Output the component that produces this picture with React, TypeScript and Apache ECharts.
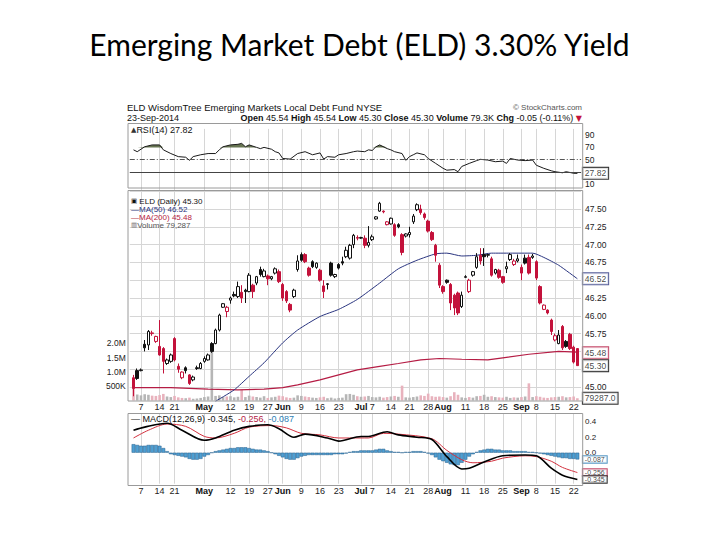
import React, { useEffect, useRef } from 'react';
import * as echarts from 'echarts';

// Daily candles, 3-Apr-2014 .. 23-Sep-2014: [open, high, low, close]
const ohlc: number[][] = [
  [45.13, 45.17, 44.87, 44.98], [45.23, 45.26, 45.10, 45.12], [45.23, 45.26, 45.22, 45.24], [45.60, 45.66, 45.50, 45.55],
  [45.59, 45.80, 45.52, 45.78], [45.75, 45.79, 45.72, 45.76], [45.64, 45.72, 45.62, 45.71], [45.57, 45.94, 45.44, 45.45],
  [45.54, 45.56, 45.19, 45.36], [45.33, 45.40, 45.31, 45.38], [45.36, 45.47, 45.34, 45.45], [45.68, 45.70, 45.36, 45.38],
  [45.29, 45.33, 45.20, 45.25], [45.13, 45.22, 45.11, 45.21], [45.27, 45.29, 45.19, 45.23], [45.17, 45.18, 45.03, 45.05],
  [45.10, 45.16, 45.08, 45.14], [45.27, 45.30, 45.24, 45.26], [45.26, 45.35, 45.25, 45.33], [45.36, 45.43, 45.34, 45.40],
  [45.38, 45.47, 45.37, 45.45], [45.61, 45.63, 45.48, 45.50], [45.61, 45.82, 45.60, 45.80], [45.80, 46.03, 45.78, 46.01],
  [46.12, 46.18, 46.11, 46.17], [46.06, 46.14, 45.98, 46.12], [46.22, 46.27, 46.17, 46.25], [46.30, 46.34, 46.26, 46.28],
  [46.27, 46.48, 46.25, 46.41], [46.33, 46.43, 46.18, 46.25], [46.36, 46.38, 46.18, 46.34], [46.34, 46.60, 46.33, 46.57],
  [46.43, 46.45, 46.25, 46.34], [46.46, 46.56, 46.43, 46.55], [46.65, 46.69, 46.55, 46.58], [46.55, 46.66, 46.54, 46.63],
  [46.56, 46.58, 46.43, 46.52], [46.52, 46.56, 46.50, 46.55], [46.60, 46.68, 46.58, 46.66], [46.62, 46.65, 46.46, 46.48],
  [46.44, 46.46, 46.21, 46.25], [46.34, 46.36, 46.18, 46.21], [46.16, 46.18, 46.05, 46.08], [46.27, 46.38, 46.25, 46.36],
  [46.65, 46.85, 46.62, 46.77], [46.86, 46.89, 46.76, 46.78], [46.86, 46.88, 46.74, 46.76], [46.67, 46.69, 46.55, 46.57],
  [46.76, 46.78, 46.67, 46.69], [46.68, 46.75, 46.66, 46.74], [46.64, 46.66, 46.48, 46.50], [46.42, 46.50, 46.25, 46.34],
  [46.44, 46.46, 46.37, 46.45], [46.74, 46.76, 46.55, 46.57], [46.55, 46.59, 46.53, 46.58], [46.72, 46.74, 46.65, 46.67],
  [46.76, 46.83, 46.71, 46.74], [46.83, 46.97, 46.81, 46.92], [46.81, 47.01, 46.79, 46.99], [47.00, 47.15, 46.95, 47.13],
  [47.10, 47.13, 47.06, 47.09], [47.09, 47.11, 47.08, 47.10], [47.09, 47.13, 46.95, 46.99], [46.99, 47.26, 46.96, 47.03],
  [47.07, 47.14, 47.05, 47.11], [47.36, 47.40, 47.35, 47.39], [47.47, 47.60, 47.46, 47.58], [47.47, 47.48, 47.44, 47.46],
  [47.28, 47.33, 47.27, 47.32], [47.29, 47.38, 47.28, 47.37], [47.28, 47.30, 47.11, 47.13], [47.28, 47.30, 47.23, 47.25],
  [47.14, 47.16, 46.85, 46.89], [47.12, 47.16, 47.10, 47.15], [47.14, 47.25, 47.10, 47.17], [47.32, 47.43, 47.29, 47.40],
  [47.49, 47.58, 47.47, 47.56], [47.50, 47.56, 47.42, 47.45], [47.43, 47.45, 47.35, 47.38], [47.33, 47.35, 47.17, 47.19],
  [47.17, 47.19, 47.05, 47.07], [46.99, 47.01, 46.76, 46.85], [46.71, 46.74, 46.39, 46.43], [46.41, 46.43, 46.31, 46.34],
  [46.50, 46.51, 46.45, 46.47], [46.44, 46.46, 46.08, 46.18], [46.29, 46.31, 46.01, 46.11], [46.32, 46.34, 46.01, 46.04],
  [46.13, 46.34, 46.11, 46.29], [46.54, 46.57, 46.53, 46.55], [46.34, 46.52, 46.32, 46.50], [46.57, 46.63, 46.55, 46.62],
  [46.68, 46.88, 46.66, 46.83], [46.85, 46.95, 46.72, 46.77], [46.86, 46.95, 46.70, 46.83], [46.85, 46.87, 46.82, 46.86],
  [46.80, 46.83, 46.55, 46.57], [46.60, 46.66, 46.58, 46.65], [46.64, 46.66, 46.52, 46.54], [46.55, 46.56, 46.45, 46.47],
  [46.66, 46.76, 46.60, 46.69], [46.79, 46.88, 46.77, 46.86], [46.72, 46.80, 46.70, 46.77], [46.77, 46.86, 46.75, 46.80],
  [46.68, 46.72, 46.50, 46.60], [46.81, 46.86, 46.72, 46.74], [46.82, 46.86, 46.58, 46.60], [46.82, 46.87, 46.80, 46.84],
  [46.76, 46.78, 46.50, 46.53], [46.41, 46.43, 46.16, 46.18], [46.09, 46.16, 46.08, 46.15], [46.08, 46.09, 46.02, 46.04],
  [45.94, 45.96, 45.73, 45.78], [45.66, 45.75, 45.64, 45.72], [45.61, 45.80, 45.60, 45.73], [45.85, 45.87, 45.52, 45.55],
  [45.64, 45.66, 45.55, 45.57], [45.74, 45.76, 45.52, 45.54], [45.56, 45.58, 45.33, 45.35], [45.54, 45.54, 45.30, 45.30],
];

// Daily volume, thousands of shares
const volumeK: number[] = [
  450, 210, 180, 220, 200, 170, 160, 190, 230, 140, 120, 160, 110, 90, 80, 100, 60, 70, 90, 120,
  140, 1700, 160, 180, 120, 140, 150, 110, 130, 380, 120, 170, 140, 120, 100, 150, 90, 110, 130, 170,
  150, 110, 90, 100, 180, 160, 140, 120, 100, 90, 110, 130, 80, 100, 70, 90, 100, 220, 230, 200,
  150, 130, 140, 160, 120, 110, 130, 100, 120, 140, 160, 130, 520, 110, 100, 120, 140, 180, 160, 240,
  150, 130, 140, 120, 100, 150, 290, 200, 110, 90, 120, 100, 150, 160, 200, 130, 150, 120, 110, 100,
  130, 90, 110, 100, 120, 140, 600, 120, 150, 130, 100, 90, 110, 120, 130, 150, 110, 120, 140, 79.287,
];

// [day index, value]
const ma50Points: number[][] = [
  [22, 44.80], [27, 44.96], [31, 45.15], [35, 45.34], [40, 45.62], [44, 45.80], [50, 45.99], [55, 46.09],
  [60, 46.23], [66, 46.46], [71, 46.66], [76, 46.78], [81, 46.87], [84, 46.88], [88, 46.84], [92, 46.85],
  [96, 46.88], [101, 46.88], [107, 46.88], [110, 46.82], [114, 46.71], [119, 46.52],
];
const ma200Points: number[][] = [
  [0, 44.99], [10, 44.99], [20, 44.97], [28, 44.96], [35, 44.97], [40, 44.99], [44, 45.03], [50, 45.10],
  [55, 45.17], [60, 45.24], [66, 45.29], [71, 45.33], [77, 45.38], [82, 45.40], [88, 45.39], [95, 45.38],
  [99, 45.41], [106, 45.46], [114, 45.50], [119, 45.49],
];
const rsiPoints: number[][] = [
  [0, 66], [1, 63], [3, 71], [5, 74], [7, 74], [8, 66], [10, 60], [12, 55], [14, 54], [15, 49], [16, 55],
  [18, 58], [20, 60], [22, 60], [23, 66], [24, 71], [26, 74], [28, 75], [29, 76.5], [30, 71], [31, 74],
  [33, 70], [34, 68], [35, 70], [37, 67], [38, 63], [39, 61], [40, 52], [42, 51], [44, 60], [46, 63],
  [48, 58], [50, 61], [51, 51], [52, 55], [54, 54], [55, 58], [57, 60], [59, 63], [60, 64], [62, 63],
  [63, 66], [64, 65], [65, 71], [66, 74], [68, 68], [69, 66], [70, 63], [72, 60], [73, 49], [74, 55],
  [75, 58], [76, 61], [78, 58], [79, 52], [81, 44], [83, 36], [84, 33], [86, 34], [87, 30.5], [88, 39],
  [90, 44], [92, 48.5], [93, 50.6], [95, 49.4], [97, 46.7], [99, 47.7], [100, 44], [101, 52], [103, 49.4],
  [105, 48.5], [107, 49.4], [108, 41], [110, 36], [112, 32], [113, 30.5], [115, 28.8], [116, 30.5],
  [118, 28], [119, 27.82],
];
const macdPoints: number[][] = [
  [0, 0.29], [3, 0.33], [9, 0.38], [13, 0.29], [19, 0.16], [22, 0.19], [27, 0.29], [31, 0.34], [36, 0.36],
  [39, 0.31], [43, 0.20], [46, 0.24], [52, 0.19], [55, 0.15], [61, 0.21], [63, 0.21], [68, 0.27], [71, 0.23],
  [76, 0.20], [80, 0.17], [84, -0.05], [88, -0.21], [90, -0.20], [94, -0.12], [99, -0.04], [105, -0.03],
  [108, -0.04], [112, -0.20], [115, -0.29], [119, -0.345],
];
const signalPoints: number[][] = [
  [0, 0.19], [4, 0.29], [9, 0.37], [14, 0.34], [19, 0.21], [22, 0.19], [27, 0.25], [31, 0.33], [37, 0.35],
  [41, 0.32], [45, 0.25], [50, 0.23], [55, 0.19], [61, 0.19], [63, 0.19], [67, 0.25], [71, 0.24], [80, 0.18],
  [84, 0.03], [88, -0.09], [91, -0.13], [96, -0.11], [99, -0.07], [105, -0.04], [108, -0.05], [112, -0.11],
  [115, -0.19], [119, -0.256],
];
const histogram: number[] = [
  0.11, 0.10, 0.09, 0.09, 0.10, 0.10, 0.10, 0.09, 0.06, 0.02, -0.02, -0.03, -0.04, -0.05, -0.06, -0.08, -0.09, -0.09, -0.08, -0.05,
  -0.03, 0.0, 0.02, 0.03, 0.04, 0.05, 0.06, 0.06, 0.07, 0.07, 0.07, 0.06, 0.05, 0.04, 0.04, 0.03, 0.02, 0.0, -0.02, -0.04,
  -0.06, -0.08, -0.09, -0.09, -0.07, -0.05, -0.04, -0.03, -0.03, -0.03, -0.03, -0.03, -0.03, -0.03, -0.02, -0.02, -0.02, -0.01, 0.01, 0.02,
  0.02, 0.03, 0.03, 0.03, 0.03, 0.04, 0.05, 0.05, 0.03, 0.02, 0.01, 0.01, 0.0, 0.01, 0.01, 0.02, 0.02, 0.02, 0.01, -0.01,
  -0.03, -0.06, -0.09, -0.11, -0.13, -0.15, -0.16, -0.16, -0.13, -0.09, -0.05, -0.02, 0.01, 0.03, 0.04, 0.05, 0.05, 0.04, 0.04, 0.03,
  0.03, 0.03, 0.02, 0.02, 0.02, 0.02, 0.01, 0.01, 0.0, -0.01, -0.02, -0.03, -0.04, -0.05, -0.06, -0.07, -0.07, -0.08, -0.08, -0.087,
];

// Date tick labels: [day index, label, month?]
const dateTicks: [number, string, boolean][] = [
  [2, '7', false], [7, '14', false], [11, '21', false], [19, 'May', true], [26, '12', false], [31, '19', false],
  [36, '27', false], [40, 'Jun', true], [45, '9', false], [50, '16', false], [55, '23', false], [61, 'Jul', true],
  [64, '7', false], [69, '14', false], [74, '21', false], [79, '28', false], [83, 'Aug', true], [89, '11', false],
  [94, '18', false], [99, '25', false], [104, 'Sep', true], [108, '8', false], [113, '15', false], [118, '22', false],
];
const hiddenPriceTicks = [47.75, 46.5, 45.5, 45.25];
const rsiTickLabels = [10, 50, 70, 90];
const volumeTickLabels: Record<string, string> = { '500000': '500K', '1000000': '1.0M', '1500000': '1.5M', '2000000': '2.0M' };
const macdTickLabels = [0.4, 0.2, 0];

const lastClose = 45.3;
const lastMa50 = 46.52;
const lastMa200 = 45.48;
const lastVolume = 79287;
const lastRsi = 27.82;
const lastMacd = -0.345;
const lastSignal = -0.256;
const lastHist = -0.087;

const FONT = '"Liberation Sans", Arial, sans-serif';
const RED = '#c3123b';
const BLACK = '#111111';
const NAVY = '#2a3580';
const CRIMSON = '#b51c44';
const GRIDC = '#d6d6d6';

const N = ohlc.length;
const K = N + 2;
const cats = Array.from({ length: K }, (_, k) => String(k));
const tickMap = new Map<number, [string, boolean]>(dateTicks.map(([i, t, m]) => [i + 1, [t, m]]));

const L = 129.77;
const R = 720 - 581.1;

function buildOption() {
  const candleData: any[] = ['-'];
  const volData: any[] = [null];
  ohlc.forEach(([o, h, l, c], i) => {
    const prev = i === 0 ? Infinity : ohlc[i - 1][3];
    const col = c < prev ? RED : BLACK;
    const fill = c >= o ? '#ffffff' : col;
    candleData.push({ value: [o, c, l, h], itemStyle: { color: fill, color0: fill, borderColor: col, borderColor0: col } });
    volData.push({ value: volumeK[i] * 1000, itemStyle: { color: c < prev ? '#e8b2bd' : '#b6b6b6' } });
  });
  candleData.push('-');
  volData.push(null);
  const histData: any[] = [null, ...histogram, null];
  const pts = (a: number[][]) => a.map(([i, v]) => [i + 1, v]);

  const xAxis = (gridIndex: number, labels: boolean, margin: number) => ({
    type: 'category',
    gridIndex,
    data: cats,
    boundaryGap: false,
    axisLine: { show: false },
    axisTick: { show: false },
    axisLabel: {
      show: labels,
      interval: (idx: number) => tickMap.has(idx),
      formatter: (v: string) => {
        const t = tickMap.get(Number(v));
        if (!t) return '';
        return t[1] ? `{m|${t[0]}}` : t[0];
      },
      fontSize: 9,
      fontFamily: FONT,
      color: '#222',
      margin,
      rich: { m: { fontWeight: 'bold', fontSize: 9, fontFamily: FONT, color: '#111' } },
    },
    splitLine: { show: true, interval: (idx: number) => tickMap.has(idx), lineStyle: { color: GRIDC, width: 1 } },
  });

  const yLabel = { fontSize: 8.5, fontFamily: FONT, color: '#222' };

  const tag = (xi: number, yi: number, value: number, text: string, color: string, size = 8.5) => ({
    type: 'scatter',
    xAxisIndex: xi,
    yAxisIndex: yi,
    data: [[K - 2, value]],
    symbolSize: 1,
    itemStyle: { color: 'rgba(0,0,0,0)' },
    z: 30,
    silent: true,
    clip: false,
    label: {
      show: true,
      position: 'right',
      distance: 5,
      formatter: text,
      color: BLACK,
      fontSize: size,
      fontFamily: FONT,
      backgroundColor: '#fff',
      borderColor: color,
      borderWidth: 1,
      padding: size < 8 ? [0, 2, 0, 2] : [1, 2, 0, 2],
      lineHeight: size < 8 ? 6.5 : 10,
    },
  });

  const txt = (x: number, y: number, text: string, extra: any = {}) => ({
    type: 'text',
    x,
    y,
    silent: true,
    z: 50,
    style: { text, fontSize: 9, fontFamily: FONT, fill: '#111', verticalAlign: 'middle', ...extra },
  });
  const frame = (y1: number, y2: number) => ({
    type: 'rect',
    shape: { x: 128, y: y1, width: 582.7 - 128, height: y2 - y1 },
    style: { fill: 'none', stroke: '#9a9a9a', lineWidth: 1 },
    silent: true,
    z: 100,
  });

  return {
    animation: false,
    backgroundColor: '#ffffff',
    grid: [
      { left: L, right: R, top: 128.9, height: 61.6, outerBoundsMode: 'none' },
      { left: L, right: R, top: 191.2, height: 195.8, outerBoundsMode: 'none' },
      { left: L, right: R, top: 343.3, height: 57.2, outerBoundsMode: 'none' },
      { left: L, right: R, top: 413.95, height: 69.75, outerBoundsMode: 'none' },
    ],
    xAxis: [xAxis(0, false, 2), xAxis(1, false, 2), xAxis(2, true, 2), xAxis(3, true, 3)],
    yAxis: [
      {
        type: 'value', gridIndex: 0, position: 'right', min: 0, max: 100, interval: 10,
        splitLine: { show: false }, axisLine: { show: false }, axisTick: { show: false },
        axisLabel: { ...yLabel, margin: 4, formatter: (v: number) => (rsiTickLabels.includes(Math.round(v)) ? String(Math.round(v)) : '') },
      },
      {
        type: 'value', gridIndex: 1, position: 'right', min: 45, max: 47.75, interval: 0.25,
        splitLine: { show: true, lineStyle: { color: GRIDC, width: 1 } }, axisLine: { show: false }, axisTick: { show: false },
        axisLabel: {
          ...yLabel, margin: 4,
          formatter: (v: number) => (hiddenPriceTicks.some((h) => Math.abs(h - v) < 1e-6) ? '' : v.toFixed(2)),
        },
      },
      {
        type: 'value', gridIndex: 2, position: 'left', min: 0, max: 2000000, interval: 500000,
        splitLine: { show: false }, axisLine: { show: false }, axisTick: { show: false },
        axisLabel: { ...yLabel, margin: 4, formatter: (v: number) => volumeTickLabels[String(Math.round(v))] || '' },
      },
      {
        type: 'value', gridIndex: 3, position: 'right', min: -0.4, max: 0.5, interval: 0.1,
        splitLine: { show: false }, axisLine: { show: false }, axisTick: { show: false },
        axisLabel: {
          ...yLabel, margin: 4, fontSize: 8, lineHeight: 8,
          formatter: (v: number) => {
            const r = Math.round(v * 10) / 10;
            return macdTickLabels.some((m) => Math.abs(m - r) < 1e-6) ? r.toFixed(1) : '';
          },
        },
      },
    ],
    series: [
      {
        name: 'RSI overbought', type: 'line', xAxisIndex: 0, yAxisIndex: 0, symbol: 'none', silent: true,
        data: pts(rsiPoints).map(([k, v]) => [k, Math.max(v, 70)]),
        lineStyle: { width: 0 }, areaStyle: { origin: 70, color: '#56663f', opacity: 0.9 }, z: 2,
      },
      {
        name: 'RSI oversold', type: 'line', xAxisIndex: 0, yAxisIndex: 0, symbol: 'none', silent: true,
        data: pts(rsiPoints).map(([k, v]) => [k, Math.min(v, 30)]),
        lineStyle: { width: 0 }, areaStyle: { origin: 30, color: '#56663f', opacity: 0.9 }, z: 2,
      },
      {
        name: 'RSI', type: 'line', xAxisIndex: 0, yAxisIndex: 0, symbol: 'none', silent: true,
        data: pts(rsiPoints), lineStyle: { color: '#1a1a1a', width: 1 }, z: 3,
        markLine: {
          silent: true, symbol: 'none', label: { show: false },
          data: [
            { yAxis: 50, lineStyle: { color: '#555', width: 1, type: [5, 2, 1, 2] } },
            { yAxis: 30, lineStyle: { color: '#444', width: 1, type: 'solid' } },
          ],
        },
      },
      {
        name: 'Volume', type: 'bar', xAxisIndex: 2, yAxisIndex: 2, data: volData, barWidth: 2.6, silent: true, z: 1,
      },
      {
        name: 'MA(200)', type: 'line', xAxisIndex: 1, yAxisIndex: 1, symbol: 'none', clip: false, silent: true,
        data: pts(ma200Points), lineStyle: { color: CRIMSON, width: 1.2 }, z: 3,
      },
      {
        name: 'MA(50)', type: 'line', xAxisIndex: 1, yAxisIndex: 1, symbol: 'none', clip: false, silent: true,
        data: pts(ma50Points), lineStyle: { color: NAVY, width: 1 }, smooth: 0.2, z: 3,
      },
      {
        name: 'ELD', type: 'candlestick', xAxisIndex: 1, yAxisIndex: 1, data: candleData, barWidth: 3, clip: false,
        silent: true, itemStyle: { borderWidth: 1 }, z: 5,
      },
      {
        name: 'Histogram', type: 'bar', xAxisIndex: 3, yAxisIndex: 3, data: histData, barWidth: 3.73, silent: true,
        itemStyle: { color: '#4f9fd2', borderColor: '#245f8c', borderWidth: 0.5 }, z: 1,
      },
      {
        name: 'Signal', type: 'line', xAxisIndex: 3, yAxisIndex: 3, symbol: 'none', smooth: 0.3, silent: true,
        data: pts(signalPoints), lineStyle: { color: '#d2303e', width: 1 }, z: 3,
      },
      {
        name: 'MACD', type: 'line', xAxisIndex: 3, yAxisIndex: 3, symbol: 'none', smooth: 0.3, silent: true,
        data: pts(macdPoints), lineStyle: { color: '#000', width: 1.6 }, z: 4,
      },
      tag(0, 0, lastRsi, lastRsi.toFixed(2), '#000'),
      tag(1, 1, lastMa50, lastMa50.toFixed(2), NAVY),
      tag(1, 1, lastMa200, lastMa200.toFixed(2), CRIMSON),
      tag(1, 1, lastClose, lastClose.toFixed(2), '#000'),
      tag(2, 2, lastVolume, lastVolume.toFixed(1), '#000'),
      tag(3, 3, lastHist, lastHist.toFixed(3), '#2f7fb5', 7),
      tag(3, 3, lastSignal, lastSignal.toFixed(3), CRIMSON, 7),
      tag(3, 3, lastMacd, lastMacd.toFixed(3), '#000', 7),
    ],
    graphic: [
      {
        type: 'text', left: 'center', top: 29, silent: true,
        style: { text: 'Emerging Market Debt (ELD) 3.30% Yield', fontSize: 30, fontFamily: 'Lato, "Open Sans", sans-serif', fill: '#000' },
      },
      frame(123.5, 188),
      frame(190.5, 401),
      frame(413.5, 485.5),
      txt(127, 107, 'ELD WisdomTree Emerging Markets Local Debt Fund NYSE', { fontSize: 9.5 }),
      txt(582, 107, '© StockCharts.com', { align: 'right', fontSize: 8, fill: '#555' }),
      txt(127, 118, '23-Sep-2014', { fontSize: 9 }),
      txt(582, 118, '{b|Open} 45.54 {b|High} 45.54 {b|Low} 45.30 {b|Close} 45.30 {b|Volume} 79.3K {b|Chg} -0.05 (-0.11%) {r|▼}', {
        align: 'right', fontSize: 9,
        rich: { b: { fontWeight: 'bold', fontSize: 9, fontFamily: FONT }, r: { fill: RED, fontSize: 8, fontFamily: 'DejaVu Sans' } },
      }),
      txt(131, 129.5, '{i|▲}RSI(14) 27.82', { fontSize: 9, rich: { i: { fontSize: 7, fontFamily: 'DejaVu Sans', fill: '#333' } } }),
      txt(131, 201, '{i|▣} ELD (Daily) 45.30', { fontSize: 8, lineHeight: 8, rich: { i: { fontSize: 6.5, lineHeight: 8, fontFamily: 'DejaVu Sans' } } }),
      txt(131, 209, '—MA(50) 46.52', { fontSize: 8, lineHeight: 8, fill: NAVY }),
      txt(131, 217, '—MA(200) 45.48', { fontSize: 8, lineHeight: 8, fill: CRIMSON }),
      txt(131, 225, '{i|▥}Volume 79,287', { fontSize: 8, lineHeight: 8, fill: '#555', rich: { i: { fontSize: 6.5, lineHeight: 8, fontFamily: 'DejaVu Sans', fill: '#666' } } }),
      txt(131, 419, '{k|— MACD(12,26,9) -0.345,} {r|-0.256,} {b|-0.087}', {
        fontSize: 9,
        rich: {
          k: { fontSize: 9, fontFamily: FONT, fill: '#111' },
          r: { fontSize: 9, fontFamily: FONT, fill: CRIMSON },
          b: { fontSize: 9, fontFamily: FONT, fill: '#2f7fb5' },
        },
      }),
    ],
  };
}

export default function App() {
  const ref = useRef<HTMLDivElement>(null);
  useEffect(() => {
    if (!ref.current) return;
    const chart = echarts.init(ref.current, undefined, { renderer: 'svg' });
    chart.setOption(buildOption() as any);
    return () => chart.dispose();
  }, []);
  return <div ref={ref} style={{ position: 'fixed', left: 0, top: 0, width: 720, height: 540, background: '#fff' }} />;
}
